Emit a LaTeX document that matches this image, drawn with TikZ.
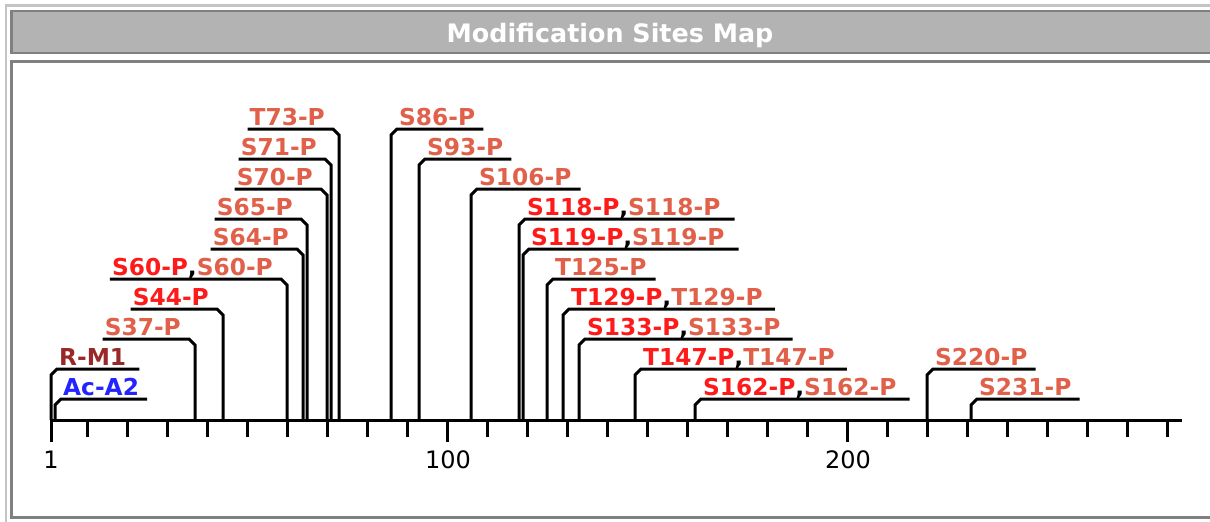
\documentclass[tikz,border=0pt]{standalone}
\usepackage{fontspec}
\setmainfont{DejaVu Sans}

\definecolor{modred}{HTML}{FF1A1A}
\definecolor{modsalmon}{HTML}{E0604A}
\definecolor{methred}{HTML}{992828}
\definecolor{acblue}{HTML}{2424FF}
\definecolor{barfill}{HTML}{B3B3B3}
\definecolor{barline}{HTML}{808080}
\definecolor{outerline}{HTML}{C4C4C4}

\newcommand{\redlab}[1]{\textcolor{modred}{#1}}
\newcommand{\sallab}[1]{\textcolor{modsalmon}{#1}}
\newcommand{\twolab}[1]{\redlab{#1},\sallab{#1}}

\tikzset{
  site/.style={line width=3pt, line join=miter},
  tickline/.style={line width=3pt},
  lab/.style={font=\bfseries\fontsize{23.3}{26}\selectfont, inner xsep=2pt, inner ysep=0pt},
  axlab/.style={font=\fontsize{24}{26}\selectfont, inner sep=0pt},
}

%% site with its label left of the stem: position, level, name, label
\newcommand{\lsite}[4]{%
  \coordinate (p#3) at (47+4*#1,420);
  \coordinate (h#3) at (0,429-30*#2);
  \node[lab, anchor=base east] (#3) at (35+4*#1,425-30*#2) {#4};
  \draw[site] (p#3) -- (47+4*#1,435-30*#2) -- (41+4*#1,429-30*#2) -- (#3.west |- h#3);
}
%% site with its label right of the stem: position, level, name, label, pad
\newcommand{\rsite}[5]{%
  \coordinate (p#3) at (47+4*#1,420);
  \coordinate (h#3) at (0,429-30*#2);
  \node[lab, anchor=base west] (#3) at (53+4*#1,425-30*#2) {#4};
  \draw[site] (p#3) -- (47+4*#1,435-30*#2) -- (53+4*#1,429-30*#2) -- (#3.east |- h#3) -- ++(#5-2,0);
}

\begin{document}
\begin{tikzpicture}[x=1pt, y=-1pt]
  \useasboundingbox (0,0) rectangle (1210,522);
  \clip (0,0) rectangle (1210,522);

  %% frame and title bar
  \draw[outerline, line width=2.5pt] (6,530) -- (6,5.5) -- (1220,5.5);
  \draw[barline, fill=barfill, line width=2.7pt] (11.3,11) rectangle (1220,53);
  \draw[barline, line width=2.7pt] (11.3,61.3) rectangle (1220,517.6);
  \node[font=\bfseries\fontsize{25.4}{30}\selectfont, text=white, anchor=base]
    (title) at (610,42) {Modification Sites Map};

  %% axis
  \coordinate (ax0) at (51,420);
  \coordinate (ax1) at (1182,420);
  \draw[tickline] (ax0) -- (ax1);
  \foreach \p in {10,20,...,280}
    \draw[tickline] (47+4*\p,420) -- ++(0,17);
  \foreach \p in {1,100,200}
    \draw[tickline] (47+4*\p,420) -- ++(0,22);
  \node[axlab, anchor=base] (t1) at (51,468) {1};
  \node[axlab, anchor=base] (t100) at (448,468) {100};
  \node[axlab, anchor=base] (t200) at (848,468) {200};

  %% sites, labels on the left
  \lsite{37}{3}{S37}{\sallab{S37-P}}
  \lsite{44}{4}{S44}{\redlab{S44-P}}
  \lsite{60}{5}{S60}{\twolab{S60-P}}
  \lsite{64}{6}{S64}{\sallab{S64-P}}
  \lsite{65}{7}{S65}{\sallab{S65-P}}
  \lsite{70}{8}{S70}{\sallab{S70-P}}
  \lsite{71}{9}{S71}{\sallab{S71-P}}
  \lsite{73}{10}{T73}{\sallab{T73-P}}

  %% sites, labels on the right
  \rsite{1}{2}{RM1}{\textcolor{methred}{R-M1}}{13}
  \rsite{2}{1}{AcA2}{\textcolor{acblue}{Ac-A2}}{8}
  \rsite{86}{10}{S86}{\sallab{S86-P}}{8}
  \rsite{93}{9}{S93}{\sallab{S93-P}}{8}
  \rsite{106}{8}{S106}{\sallab{S106-P}}{9}
  \rsite{118}{7}{S118}{\twolab{S118-P}}{14}
  \rsite{119}{6}{S119}{\twolab{S119-P}}{14}
  \rsite{125}{5}{T125}{\sallab{T125-P}}{9}
  \rsite{129}{4}{T129}{\twolab{T129-P}}{12}
  \rsite{133}{3}{S133}{\twolab{S133-P}}{12}
  \rsite{147}{2}{T147}{\twolab{T147-P}}{12}
  \rsite{162}{1}{S162}{\twolab{S162-P}}{13}
  \rsite{220}{2}{S220}{\sallab{S220-P}}{8}
  \rsite{231}{1}{S231}{\sallab{S231-P}}{8}
\end{tikzpicture}
\end{document}
